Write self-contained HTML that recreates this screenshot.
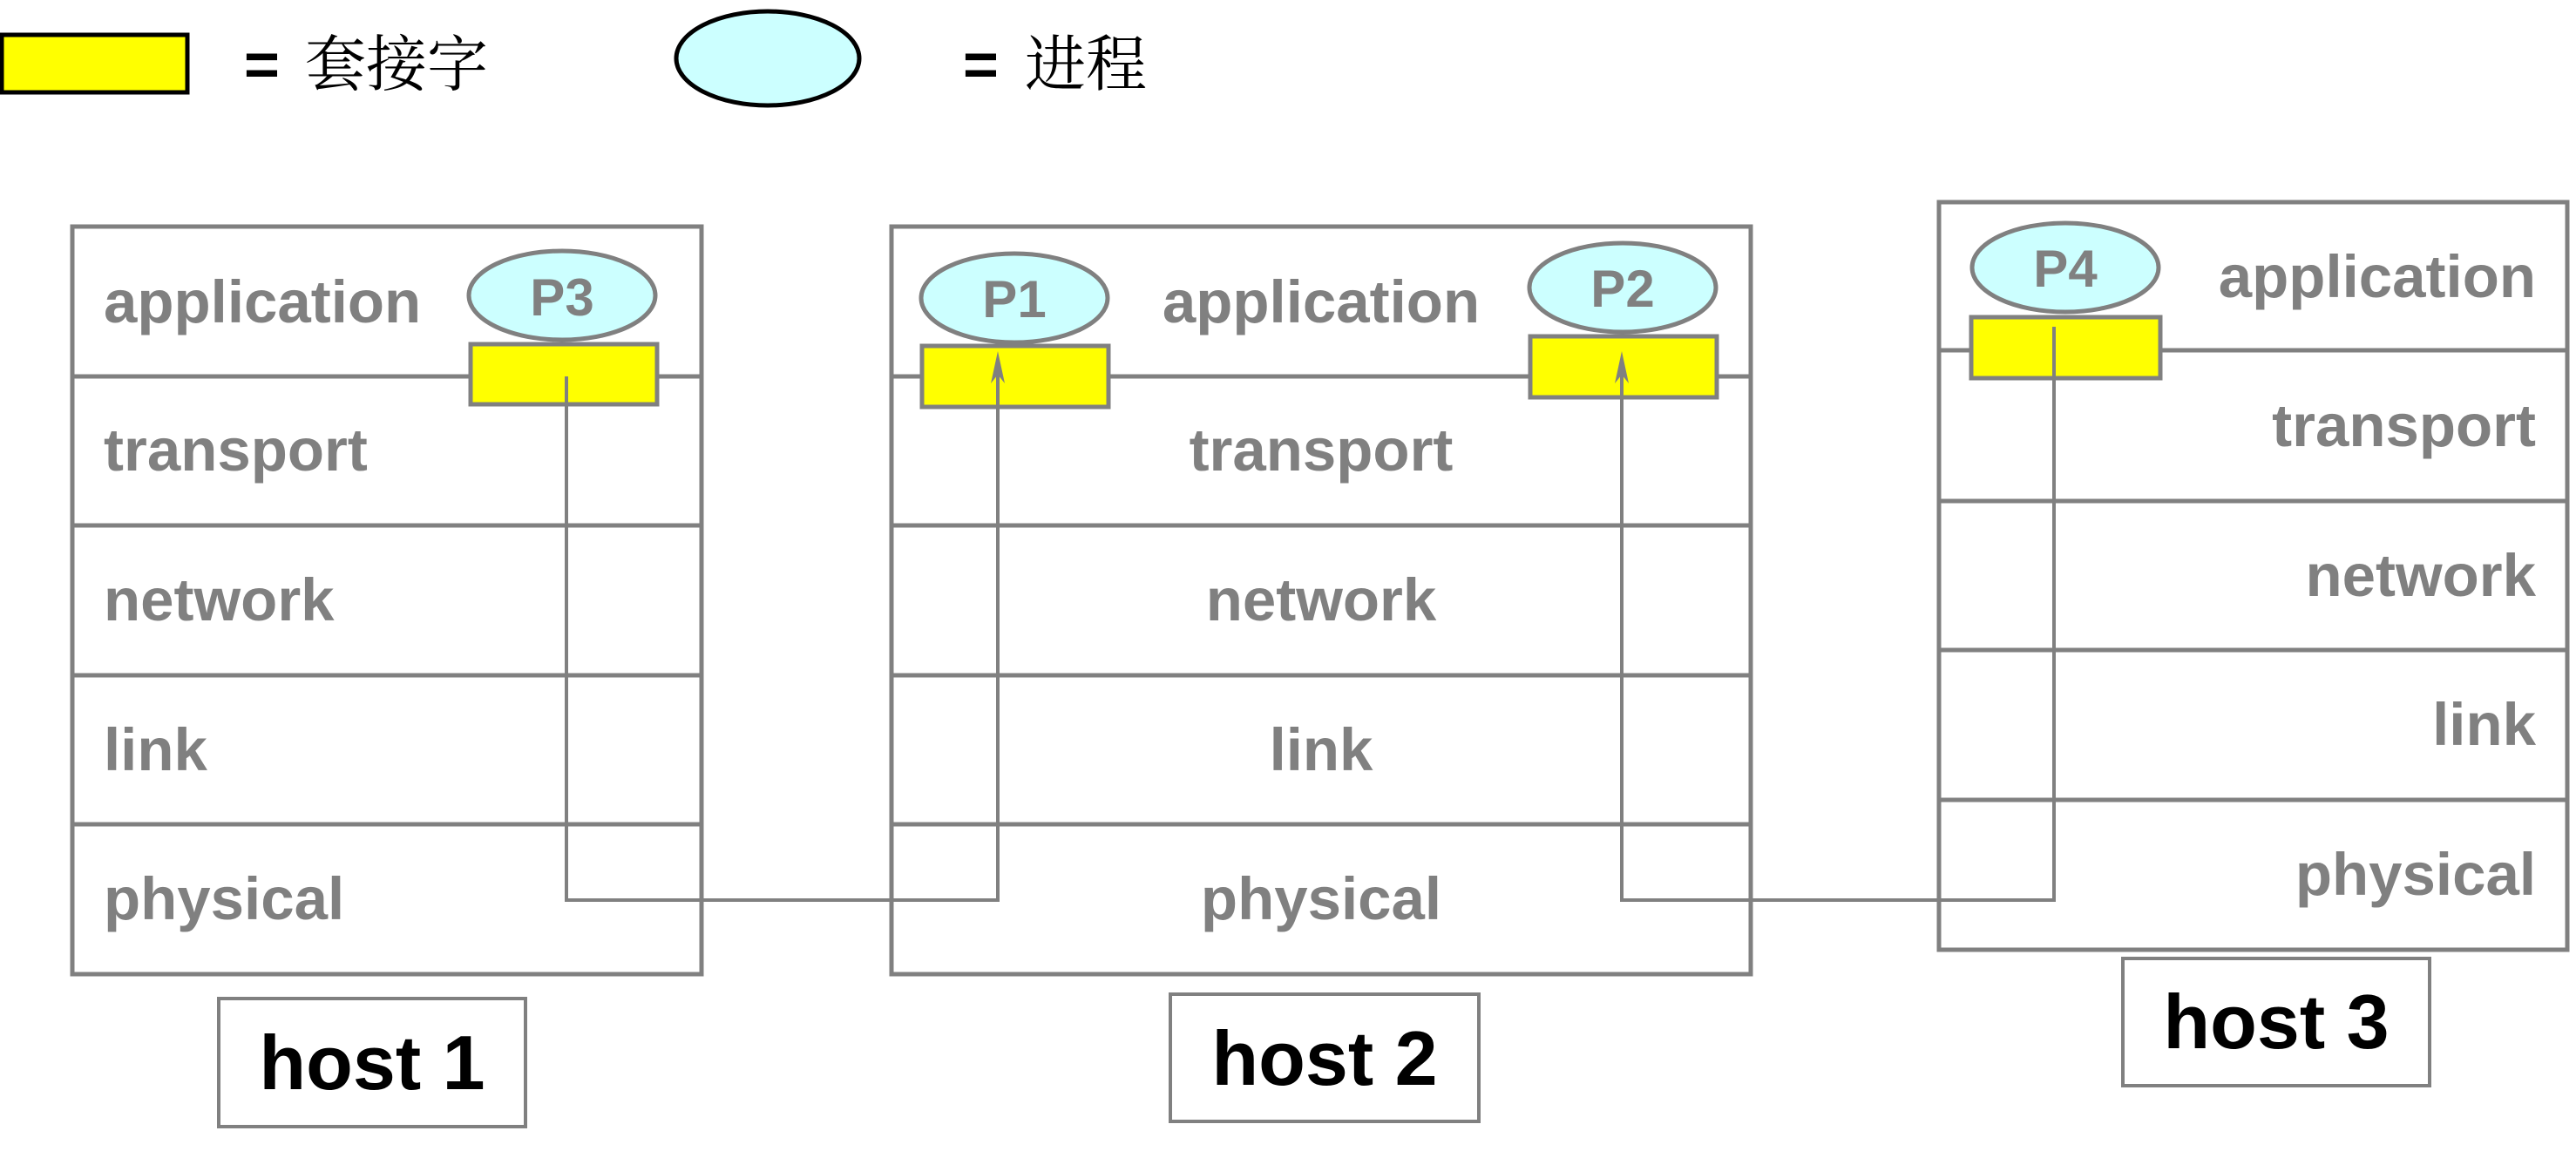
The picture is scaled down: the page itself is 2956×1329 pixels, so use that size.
<!DOCTYPE html>
<html><head><meta charset="utf-8"><style>
html,body{margin:0;padding:0;background:#fff;}
svg{display:block}
.g{font-family:"Liberation Sans",sans-serif;font-weight:bold;fill:#808080;font-size:69px;}
.p{font-family:"Liberation Sans",sans-serif;font-weight:bold;fill:#808080;font-size:60px;text-anchor:middle;}
.h{font-family:"Liberation Sans",sans-serif;font-weight:bold;fill:#000;font-size:88px;text-anchor:middle;}
.c{font-family:"Liberation Sans","Noto Serif CJK SC",serif;fill:#000;font-size:70px;}
</style></head><body>
<svg width="2956" height="1329" viewBox="0 0 2956 1329" xmlns="http://www.w3.org/2000/svg">
<rect x="2" y="40" width="213" height="66" fill="#ffff00" stroke="#000" stroke-width="5"/>
<text x="280" y="98" class="c" font-weight="bold">=</text>
<text x="350" y="98" class="c" font-family="Noto Serif CJK SC,serif">套接字</text>
<ellipse cx="881" cy="67" rx="105" ry="54" fill="#ccffff" stroke="#000" stroke-width="5"/>
<text x="1105" y="98" class="c" font-weight="bold">=</text>
<text x="1176" y="98" class="c" font-family="Noto Serif CJK SC,serif">进程</text>

<g fill="none" stroke="#808080" stroke-width="5">
<rect x="83" y="260" width="722" height="858"/>
<line x1="83" y1="432" x2="805" y2="432"/><line x1="83" y1="603" x2="805" y2="603"/>
<line x1="83" y1="775" x2="805" y2="775"/><line x1="83" y1="946" x2="805" y2="946"/>
<rect x="1023" y="260" width="986" height="858"/>
<line x1="1023" y1="432" x2="2009" y2="432"/><line x1="1023" y1="603" x2="2009" y2="603"/>
<line x1="1023" y1="775" x2="2009" y2="775"/><line x1="1023" y1="946" x2="2009" y2="946"/>
<rect x="2225" y="232" width="721" height="858"/>
<line x1="2225" y1="402" x2="2946" y2="402"/><line x1="2225" y1="575" x2="2946" y2="575"/>
<line x1="2225" y1="746" x2="2946" y2="746"/><line x1="2225" y1="918" x2="2946" y2="918"/>
<rect x="251" y="1146" width="352" height="147" stroke-width="4"/>
<rect x="1343" y="1141" width="354" height="146" stroke-width="4"/>
<rect x="2436" y="1100" width="352" height="146" stroke-width="4"/>
</g>

<g stroke="#808080" stroke-width="5">
<ellipse cx="645" cy="339" rx="107" ry="51" fill="#ccffff"/>
<rect x="540" y="395" width="214" height="69" fill="#ffff00"/>
<ellipse cx="1164" cy="342" rx="107" ry="51" fill="#ccffff"/>
<rect x="1058" y="397" width="214" height="70" fill="#ffff00"/>
<ellipse cx="1862" cy="330" rx="107" ry="51" fill="#ccffff"/>
<rect x="1756" y="386" width="214" height="70" fill="#ffff00"/>
<ellipse cx="2370" cy="307" rx="107" ry="51" fill="#ccffff"/>
<rect x="2262" y="364" width="217" height="70" fill="#ffff00"/>
</g>

<g fill="none" stroke="#808080" stroke-width="4">
<polyline points="650,432 650,1033 1145,1033 1145,420"/>
<polyline points="1861,420 1861,1033 2357,1033 2357,375"/>
</g>
<polygon points="1145,403 1137,440 1145,430 1153,440" fill="#808080"/>
<polygon points="1861,403 1853,440 1861,430 1869,440" fill="#808080"/>

<text x="645" y="362" class="p">P3</text>
<text x="1164" y="364" class="p">P1</text>
<text x="1862" y="352" class="p">P2</text>
<text x="2370" y="329" class="p">P4</text>

<g class="g">
<text x="119" y="370">application</text>
<text x="119" y="540">transport</text>
<text x="119" y="712">network</text>
<text x="119" y="884">link</text>
<text x="119" y="1055">physical</text>
</g>
<g class="g" text-anchor="middle">
<text x="1516" y="370">application</text>
<text x="1516" y="540">transport</text>
<text x="1516" y="712">network</text>
<text x="1516" y="884">link</text>
<text x="1516" y="1055">physical</text>
</g>
<g class="g" text-anchor="end">
<text x="2910" y="341">application</text>
<text x="2910" y="512">transport</text>
<text x="2910" y="684">network</text>
<text x="2910" y="855">link</text>
<text x="2910" y="1027">physical</text>
</g>

<text x="427" y="1250" class="h">host 1</text>
<text x="1520" y="1245" class="h">host 2</text>
<text x="2612" y="1203" class="h">host 3</text>
</svg>
</body></html>
